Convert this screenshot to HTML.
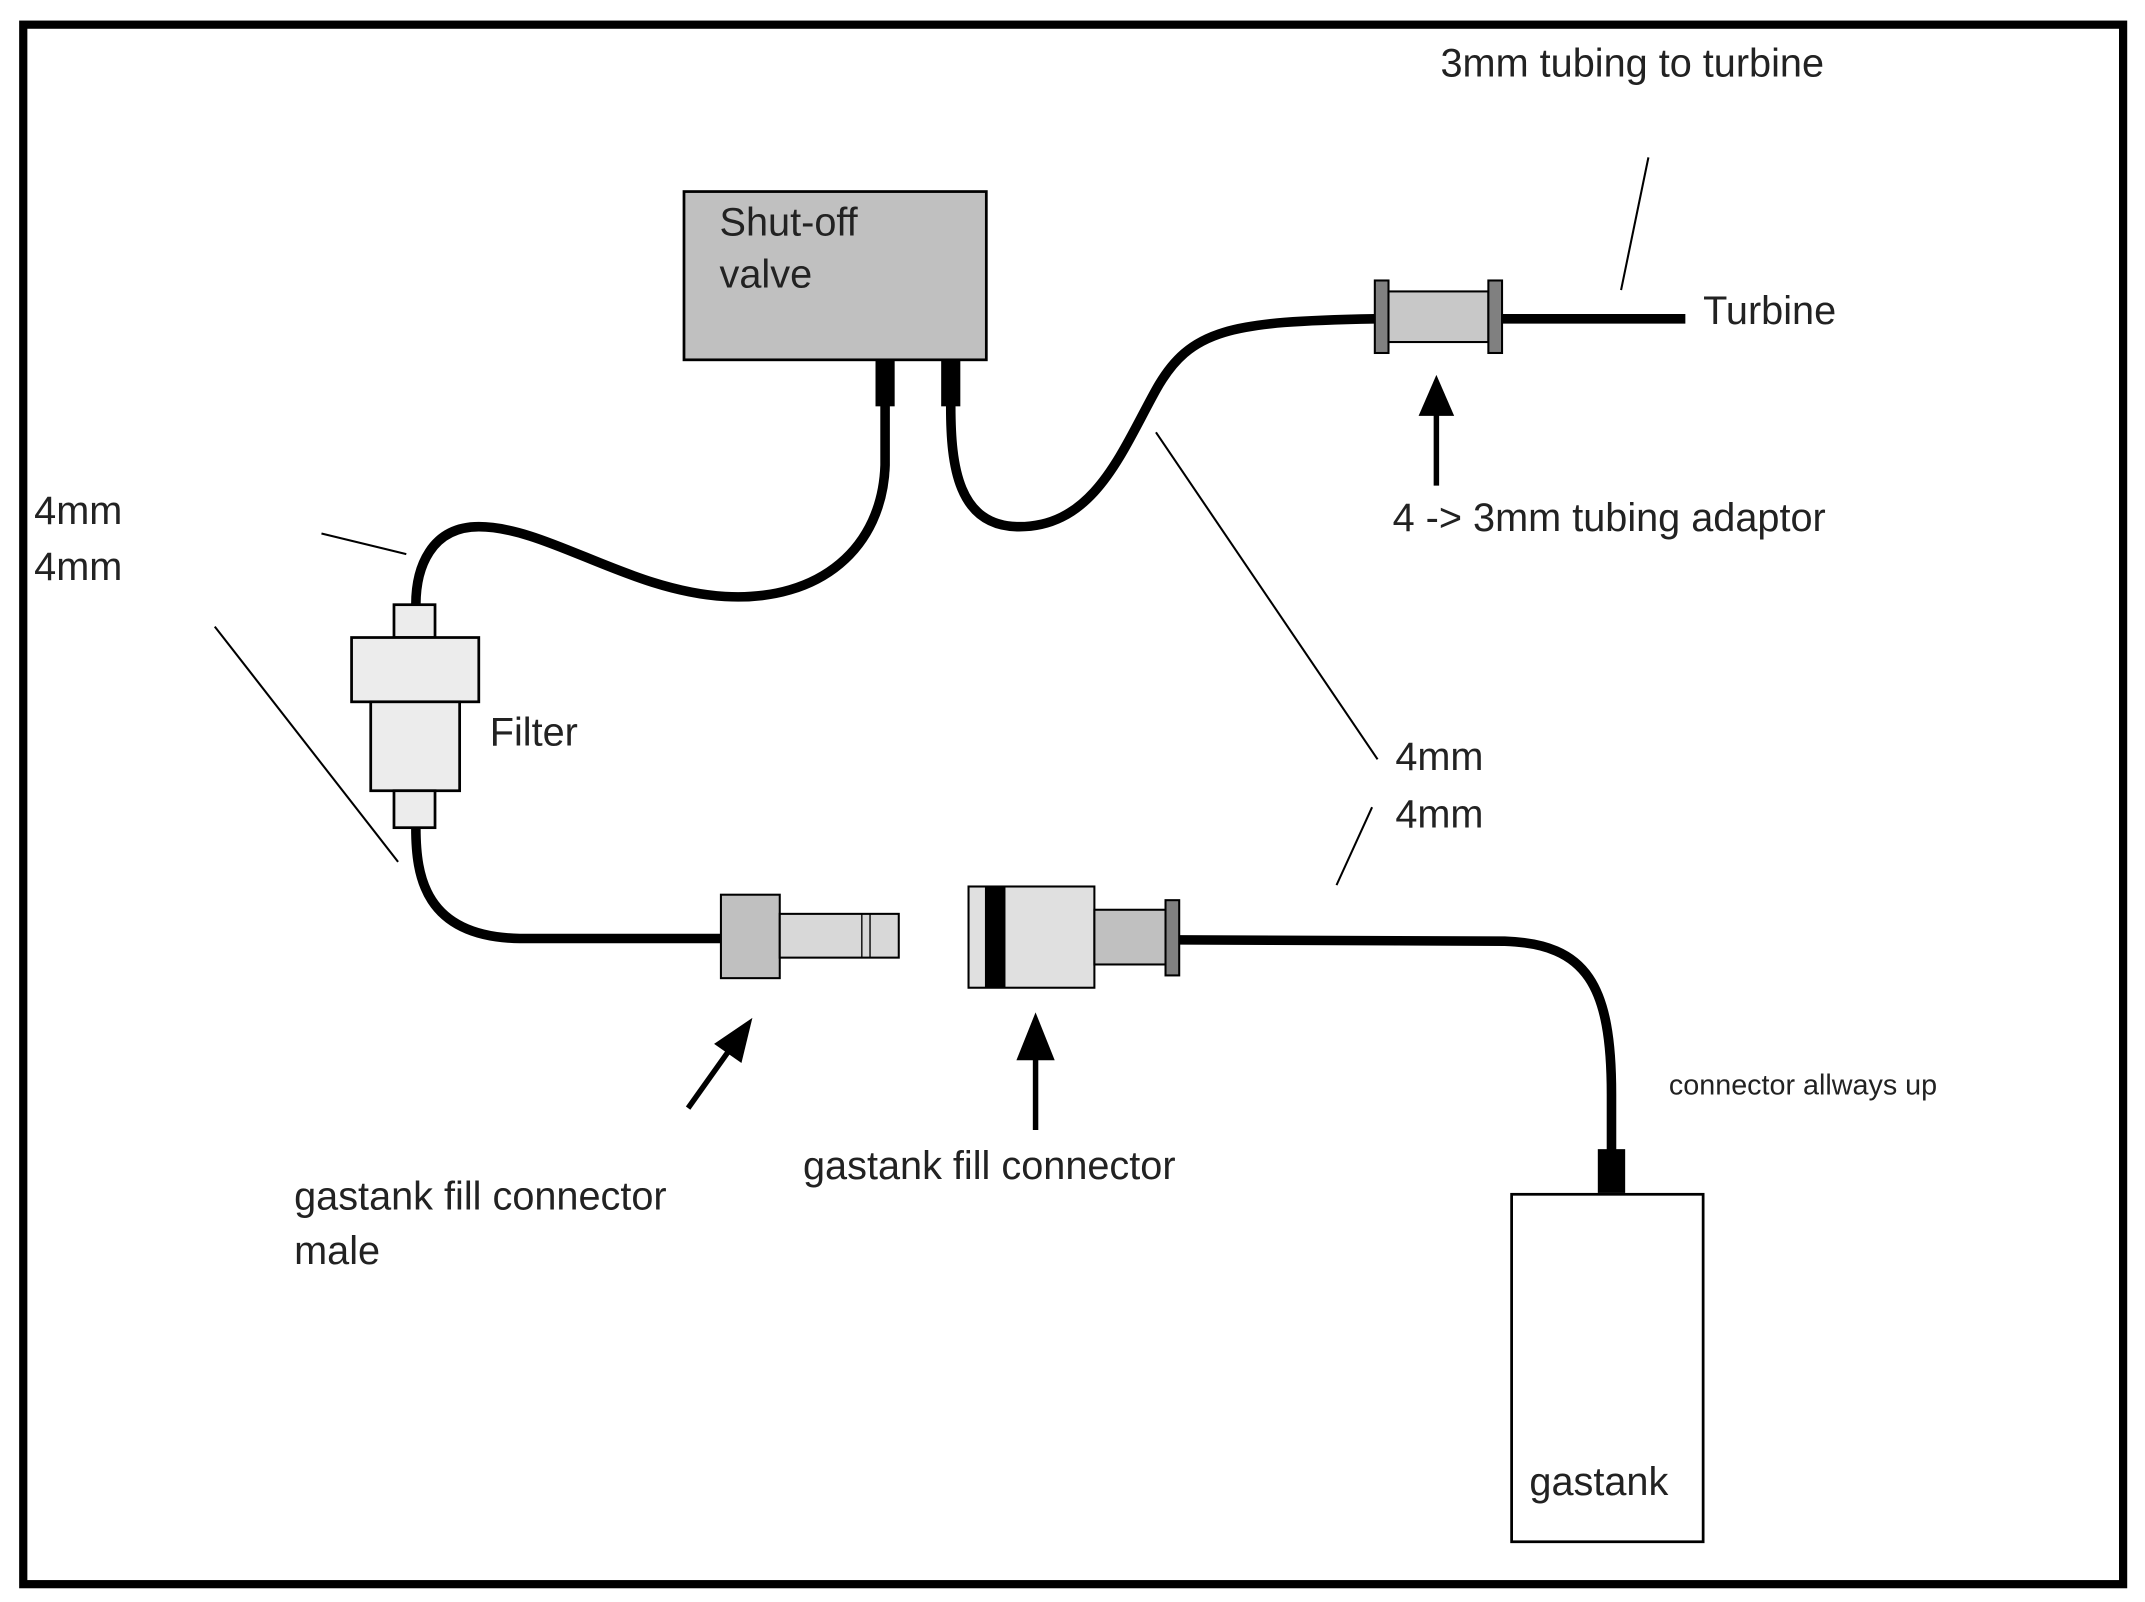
<!DOCTYPE html>
<html><head><style>html,body{margin:0;padding:0;background:#fff}svg{display:block}</style></head>
<body>
<svg width="2145" height="1602" viewBox="0 0 1568 1171" xmlns="http://www.w3.org/2000/svg" font-family="'Liberation Sans', Arial, sans-serif" fill="#222">
<rect x="0" y="0" width="1568" height="1171" fill="#fff"/>
<rect x="17" y="18" width="1535" height="1140" fill="none" stroke="#000" stroke-width="6"/>
<!-- valve -->
<rect x="500" y="140" width="221" height="123" fill="#c0c0c0" stroke="#000" stroke-width="2"/>
<text x="526" y="172" font-size="29">Shut-off</text>
<text x="526" y="210" font-size="29">valve</text>
<rect x="640" y="263" width="14" height="34" fill="#000"/>
<rect x="688" y="263" width="14" height="34" fill="#000"/>
<!-- tubes -->
<g fill="none" stroke="#000" stroke-width="7" stroke-linecap="round">
<path d="M647 297 L647 340 C645 400 600 440 530 436 C460 432 400 385 350 385 C315 385 304 415 304 442"/>
<path d="M695 297 C695 340 700 385 745 385 C800 385 820 330 845 285 C870 240 900 235 1005 233"/>
<path d="M304 605 C304 640 310 685 380 686 L527 686"/>
<path d="M862 687 L1100 688 C1160 690 1178 720 1178 800 L1178 842"/>
</g>
<line x1="1098" y1="233" x2="1232" y2="233" stroke="#000" stroke-width="7"/>
<!-- adaptor -->
<rect x="1005" y="205" width="10" height="53" fill="#808080" stroke="#000" stroke-width="1.5"/>
<rect x="1015" y="213" width="73" height="37" fill="#c8c8c8" stroke="#000" stroke-width="1.5"/>
<rect x="1088" y="205" width="10" height="53" fill="#808080" stroke="#000" stroke-width="1.5"/>
<text x="1245" y="237" font-size="29">Turbine</text>
<text x="1053" y="56" font-size="29">3mm tubing to turbine</text>
<line x1="1205" y1="115" x2="1185" y2="212" stroke="#000" stroke-width="1.5"/>
<line x1="1050" y1="355" x2="1050" y2="300" stroke="#000" stroke-width="4"/>
<polygon points="1050,274 1037,304 1063,304" fill="#000"/>
<text x="1018" y="388" font-size="29">4 -&gt; 3mm tubing adaptor</text>
<!-- filter -->
<rect x="288" y="442" width="30" height="24" fill="#ececec" stroke="#000" stroke-width="2"/>
<rect x="257" y="466" width="93" height="47" fill="#ececec" stroke="#000" stroke-width="2"/>
<rect x="271" y="513" width="65" height="65" fill="#ececec" stroke="#000" stroke-width="2"/>
<rect x="288" y="578" width="30" height="27" fill="#ececec" stroke="#000" stroke-width="2"/>
<text x="358" y="545" font-size="29">Filter</text>
<text x="25" y="383" font-size="29">4mm</text>
<text x="25" y="424" font-size="29">4mm</text>
<line x1="235" y1="390" x2="297" y2="405" stroke="#000" stroke-width="1.5"/>
<line x1="157" y1="458" x2="291" y2="630" stroke="#000" stroke-width="1.5"/>
<!-- male connector -->
<rect x="527" y="654" width="43" height="61" fill="#c0c0c0" stroke="#000" stroke-width="1.5"/>
<rect x="570" y="668" width="87" height="32" fill="#d8d8d8" stroke="#000" stroke-width="1.5"/>
<line x1="630" y1="668" x2="630" y2="700" stroke="#000" stroke-width="1"/>
<line x1="636" y1="668" x2="636" y2="700" stroke="#000" stroke-width="1"/>
<!-- female -->
<rect x="708" y="648" width="92" height="74" fill="#e0e0e0" stroke="#000" stroke-width="1.5"/>
<rect x="720" y="648" width="15" height="74" fill="#000"/>
<rect x="800" y="665" width="52" height="40" fill="#c0c0c0" stroke="#000" stroke-width="1.5"/>
<rect x="852" y="658" width="10" height="55" fill="#808080" stroke="#000" stroke-width="1.5"/>
<!-- arrows -->
<line x1="503" y1="810" x2="535" y2="765" stroke="#000" stroke-width="4"/>
<polygon points="550,744 522,763 542,777" fill="#000"/>
<line x1="757" y1="826" x2="757" y2="770" stroke="#000" stroke-width="4"/>
<polygon points="757,740 743,775 771,775" fill="#000"/>
<text x="215" y="884" font-size="29">gastank fill connector</text>
<text x="215" y="924" font-size="29">male</text>
<text x="587" y="862" font-size="29">gastank fill connector</text>
<!-- gastank -->
<rect x="1168" y="840" width="20" height="32" fill="#000"/>
<rect x="1105" y="873" width="140" height="254" fill="#fff" stroke="#000" stroke-width="2"/>
<text x="1118" y="1093" font-size="29">gastank</text>
<text x="1220" y="800" font-size="21">connector allways up</text>
<line x1="845" y1="316" x2="1007" y2="555" stroke="#000" stroke-width="1.5"/>
<text x="1020" y="563" font-size="29">4mm</text>
<text x="1020" y="605" font-size="29">4mm</text>
<line x1="1003" y1="590" x2="977" y2="647" stroke="#000" stroke-width="1.5"/>
</svg>
</body></html>
